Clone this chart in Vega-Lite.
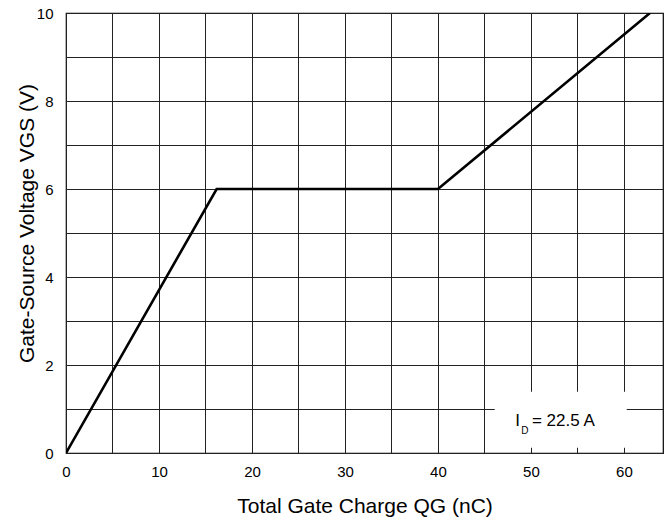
{
  "$schema": "https://vega.github.io/schema/vega-lite/v6.json",
  "width": 597,
  "height": 440,
  "autosize": {"type": "none"},
  "padding": {"left": 66, "top": 13, "right": 8, "bottom": 68},
  "config": {
    "font": "Liberation Sans",
    "view": {"stroke": "#000000", "strokeWidth": 1.2},
    "axis": {
      "labelFont": "Liberation Sans",
      "titleFont": "Liberation Sans",
      "labelColor": "#000000",
      "titleColor": "#000000",
      "labelFontSize": 15,
      "titleFontSize": 21,
      "titleFontWeight": "normal",
      "gridColor": "#222222",
      "gridOpacity": 1,
      "gridWidth": 1,
      "domain": false,
      "labelFlush": false,
      "ticks": false
    }
  },
  "encoding": {
    "x": {
      "field": "q",
      "type": "quantitative",
      "scale": {"domain": [0, 64.2], "nice": false, "zero": false},
      "axis": {
        "title": "Total Gate Charge QG (nC)",
        "values": [0, 5, 10, 15, 20, 25, 30, 35, 40, 45, 50, 55, 60],
        "labelExpr": "datum.value % 10 == 0 ? datum.label : ''",
        "grid": true,
        "labelPadding": 11,
        "titlePadding": 16
      }
    },
    "y": {
      "field": "v",
      "type": "quantitative",
      "scale": {"domain": [0, 10], "nice": false},
      "axis": {
        "title": "Gate-Source Voltage VGS (V)",
        "values": [0, 1, 2, 3, 4, 5, 6, 7, 8, 9, 10],
        "labelExpr": "datum.value % 2 == 0 ? datum.label : ''",
        "grid": true,
        "labelPadding": 13,
        "titlePadding": -1,
        "titleY": 210
      }
    }
  },
  "layer": [
    {
      "data": {"values": [{"q": 46.1, "q2": 60.3, "v": 0.12, "v2": 1.39}]},
      "mark": {"type": "rect", "fill": "#ffffff", "stroke": null},
      "encoding": {
        "x2": {"field": "q2"},
        "y2": {"field": "v2"}
      }
    },
    {
      "data": {"values": [
        {"q": 0, "v": 0},
        {"q": 16.2, "v": 6},
        {"q": 40.0, "v": 6},
        {"q": 62.8, "v": 10}
      ]},
      "mark": {"type": "line", "color": "#000000", "strokeWidth": 2.6, "clip": true}
    },
    {
      "data": {"values": [
        {"q": 48.3, "v": 0.73, "t": "I", "s": "big"},
        {"q": 48.95, "v": 0.49, "t": "D", "s": "small"},
        {"q": 50.1, "v": 0.73, "t": "= 22.5 A", "s": "big"}
      ]},
      "mark": {"type": "text", "align": "left", "baseline": "middle", "color": "#000000", "font": "Liberation Sans"},
      "encoding": {
        "text": {"field": "t"},
        "size": {"field": "s", "type": "nominal", "scale": {"domain": ["big", "small"], "range": [17, 10]}, "legend": null}
      }
    }
  ]
}
